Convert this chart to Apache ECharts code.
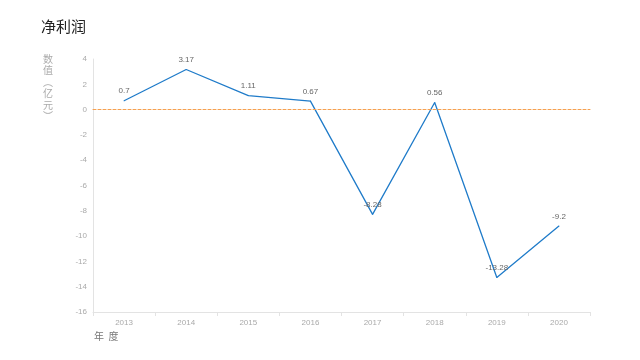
<!DOCTYPE html>
<html><head><meta charset="utf-8">
<script src="https://cdn.jsdelivr.net/npm/echarts@6/dist/echarts.min.js"></script>
<style>html,body{margin:0;padding:0;background:#fff}#c{width:640px;height:360px}</style>
</head><body><div id="c"></div>
<script>
const years = ['2013','2014','2015','2016','2017','2018','2019','2020'];
const netProfit = [0.7, 3.17, 1.11, 0.67, -8.28, 0.56, -13.28, -9.2];
const yMin = -16, yMax = 4, yStep = 2;
const title = '净利润';
const yName = '数\n值\n︵\n亿\n元\n︶';
const xName = '年  度';

const chart = echarts.init(document.getElementById('c'), null, {renderer:'canvas'});
chart.setOption({
  backgroundColor:'#fff',
  animation:false,
  title:{text:title, left:36, top:14, textStyle:{fontSize:15, fontWeight:'normal', color:'#222', fontFamily:'Noto Sans CJK SC'}},
  graphic:[
    {type:'text', left:43, top:53, style:{text:yName, fill:'#aaa', fontSize:10, lineHeight:11.5, fontFamily:'Noto Sans CJK SC'}},
    {type:'text', left:94, top:331, style:{text:xName, fill:'#777', fontSize:10, fontFamily:'Noto Sans CJK SC'}}
  ],
  grid:{left:93, right:50, top:59, bottom:48},
  xAxis:[
    {type:'category', data:years, boundaryGap:true, position:'bottom',
      axisLine:{onZero:false, lineStyle:{color:'#e3e3e3'}},
      axisTick:{show:true, lineStyle:{color:'#e3e3e3'}, length:4},
      axisLabel:{color:'#aaa', fontSize:8, margin:7, fontFamily:'Liberation Sans'}},
    {type:'category', data:years, boundaryGap:true, position:'top', z:5,
      axisLine:{show:true, onZero:true, lineStyle:{color:'#f5a050', type:[3,2], width:1}},
      axisTick:{show:false}, axisLabel:{show:false}, splitLine:{show:false}}
  ],
  yAxis:{type:'value', min:yMin, max:yMax, interval:yStep,
    axisLine:{show:true, lineStyle:{color:'#e3e3e3'}},
    axisTick:{show:false},
    splitLine:{show:false},
    axisLabel:{color:'#aaa', fontSize:8, margin:6, fontFamily:'Liberation Sans'}},
  series:[{type:'line', xAxisIndex:0, data:netProfit, symbol:'circle', symbolSize:1, showSymbol:true,
    itemStyle:{color:'#1f7bc9', borderWidth:0},
    lineStyle:{color:'#1f7bc9', width:1.3},
    label:{show:true, position:'top', distance:5, color:'#666', fontSize:8, fontFamily:'Liberation Sans'}
  }]
});
</script></body></html>
